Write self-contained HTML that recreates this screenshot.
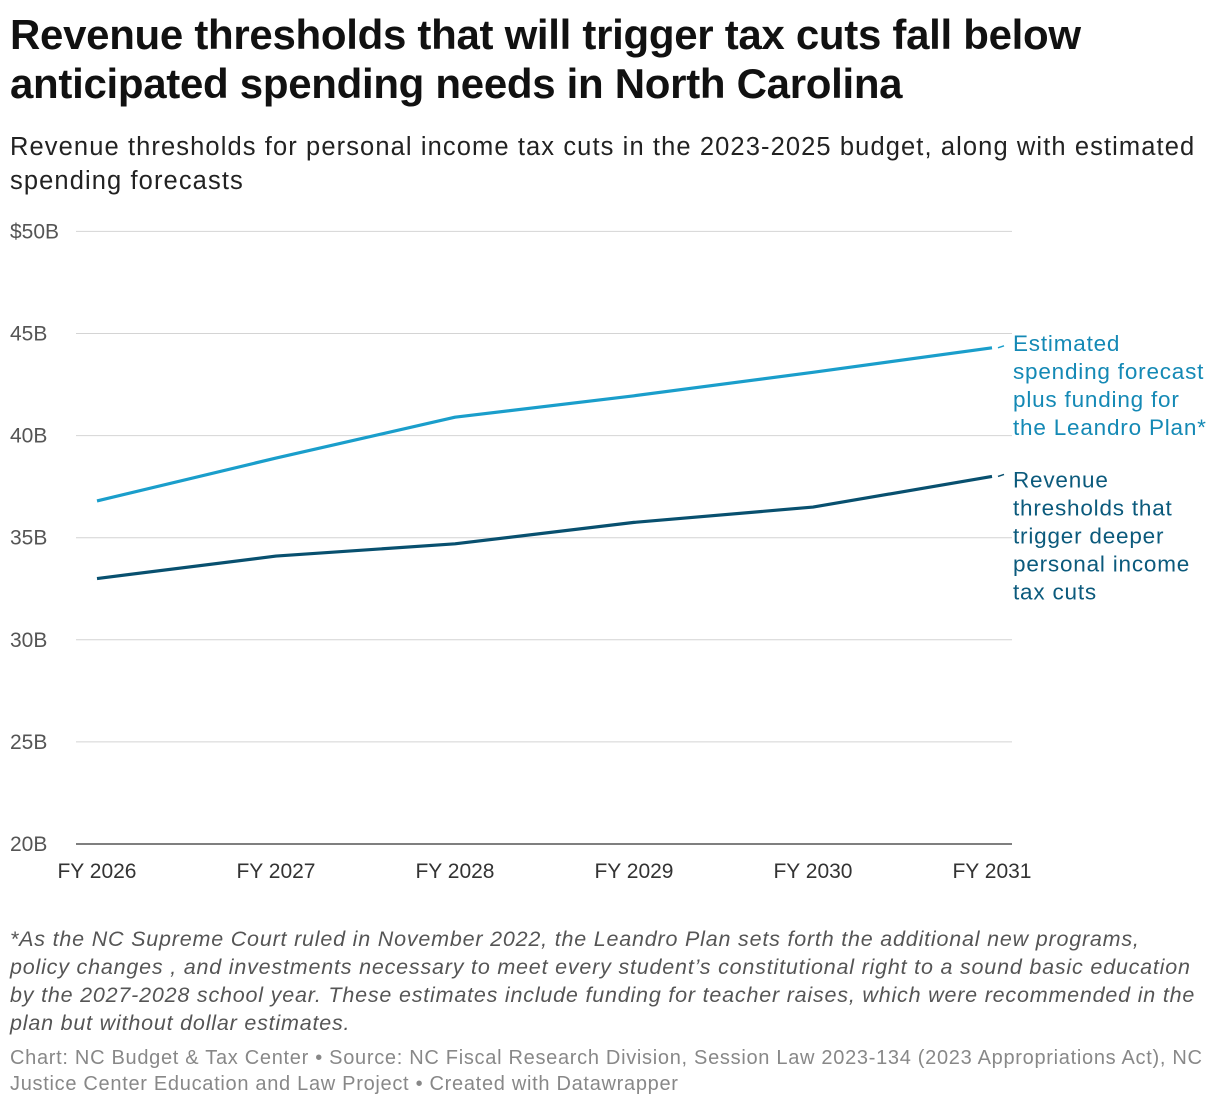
<!DOCTYPE html>
<html><head><meta charset="utf-8">
<style>
body{margin:0;width:1220px;height:1108px;background:#fff;font-family:"Liberation Sans",sans-serif;position:relative;overflow:hidden}
.t{position:absolute;left:10px;margin:0;white-space:nowrap}
</style></head><body>
<h1 class="t" style="top:10px;font-size:42px;line-height:49px;font-weight:bold;color:#111;letter-spacing:-0.3px">Revenue thresholds that will trigger tax cuts fall below<br>anticipated spending needs in North Carolina</h1>
<p class="t" style="top:130px;font-size:25.5px;line-height:34px;color:#222;letter-spacing:1.1px">Revenue thresholds for personal income tax cuts in the 2023-2025 budget, along with estimated<br>spending forecasts</p>
<svg id="chart" width="1220" height="900" style="position:absolute;left:0;top:0"></svg>
<p class="t" style="top:925px;font-size:21.5px;line-height:28px;color:#555;font-style:italic;letter-spacing:0.8px">*As the NC Supreme Court ruled in November 2022, the Leandro Plan sets forth the additional new programs,<br>policy changes , and investments necessary to meet every student’s constitutional right to a sound basic education<br>by the 2027-2028 school year. These estimates include funding for teacher raises, which were recommended in the<br>plan but without dollar estimates.</p>
<p class="t" style="top:1045px;font-size:20px;line-height:26px;color:#888;letter-spacing:0.7px">Chart: NC Budget &amp; Tax Center • Source: NC Fiscal Research Division, Session Law 2023-134 (2023 Appropriations Act), NC<br>Justice Center Education and Law Project • Created with Datawrapper</p>
<script>
const categories=["FY 2026","FY 2027","FY 2028","FY 2029","FY 2030","FY 2031"];
const spending=[36.8,38.9,40.9,41.95,43.1,44.3];
const revenue=[33.0,34.1,34.7,35.75,36.5,38.0];
const yTicks=[20,25,30,35,40,45,50];
const yTickLabels=["20B","25B","30B","35B","40B","45B","$50B"];
const NS="http://www.w3.org/2000/svg";
const svg=document.getElementById("chart");
const x=i=>97+i*179;
const y=v=>844-(v-20)*20.42;
function mk(tag,attrs,txt){const e=document.createElementNS(NS,tag);for(const k in attrs)e.setAttribute(k,attrs[k]);if(txt!==undefined)e.textContent=txt;svg.appendChild(e);return e;}
yTicks.forEach((t,i)=>{
  const l=mk("line",{x1:76,x2:1012,y1:y(t),y2:y(t),stroke:i==0?"#333":"#d4d4d4","stroke-width":i==0?1.2:1});
  
  
  const tx=mk("text",{x:10,y:y(t)+7,"font-size":"21","fill":"#555","font-family":"Liberation Sans"},yTickLabels[i]);
  
  
});
categories.forEach((c,i)=>{
  const tx=mk("text",{x:x(i),y:878,"font-size":"21","fill":"#333","text-anchor":"middle","font-family":"Liberation Sans"},c);
  
  
});
function series(data,color,name){
  const p=mk("polyline",{points:data.map((v,i)=>x(i)+","+y(v)).join(" "),fill:"none",stroke:color,"stroke-width":3.2,"stroke-linejoin":"round"});
  
  
  const last=data[data.length-1];
  mk("line",{x1:x(data.length-1)+6,x2:x(data.length-1)+12,y1:y(last),y2:y(last)-2,stroke:color,"stroke-width":1.5});
}
series(spending,"#1a9ecb","spending-line");
series(revenue,"#08506f","revenue-line");
function label(lines,top,color,name){
  const t=mk("text",{x:1013,y:top,"font-size":"22.5","fill":color,"font-family":"Liberation Sans","letter-spacing":"0.8"});
  
  
  lines.forEach((s,i)=>{const ts=document.createElementNS(NS,"tspan");ts.setAttribute("x",1013);ts.setAttribute("y",top+i*28);ts.textContent=s;t.appendChild(ts);});
}
label(["Estimated","spending forecast","plus funding for","the Leandro Plan*"],y(spending[5])+3,"#1489b5","spending-label");
label(["Revenue","thresholds that","trigger deeper","personal income","tax cuts"],y(revenue[5])+11,"#0b5a7c","revenue-label");
</script>
</body></html>
